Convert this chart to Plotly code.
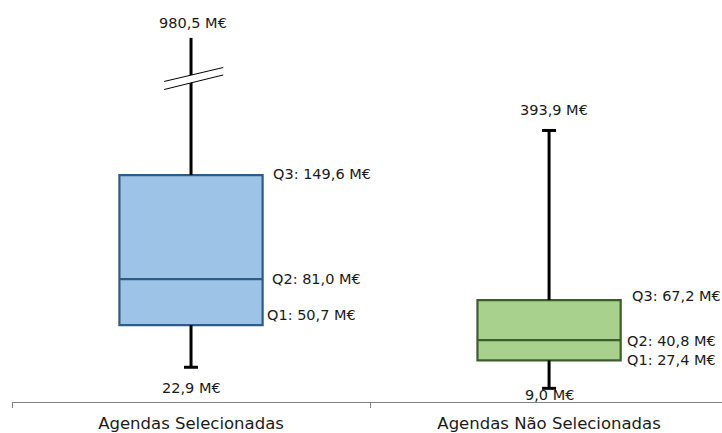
import plotly.graph_objects as go

# ---- data ----
categories = ["Agendas Selecionadas", "Agendas Não Selecionadas"]
q1_values = [50.7, 27.4]
median_values = [81.0, 40.8]
q3_values = [149.6, 67.2]
min_values = [22.9, 9.0]
max_values = [980.5, 393.9]          # true maxima (shown in the labels)
max_drawn = [240.0, 179.0]           # where the truncated upper whiskers end on the scale
has_top_cap = [False, True]
broken_axis = [True, False]

# ---- style ----
fills = ["#9DC3E6", "#A9D18E"]
edges = ["#2E5C8A", "#3B5E2B"]
font_family = "DejaVu Sans"
text_color = "#1a1a1a"
box_width = 0.4


def fmt(v):
    return f"{v:.1f}".replace(".", ",") + " M€"


fig = go.Figure()

for i, cat in enumerate(categories):
    fig.add_trace(go.Box(
        x=[cat], q1=[q1_values[i]], median=[median_values[i]], q3=[q3_values[i]],
        lowerfence=[q1_values[i]], upperfence=[q3_values[i]],
        width=box_width, whiskerwidth=0, boxpoints=False,
        fillcolor=fills[i], line=dict(color=edges[i], width=2.2),
        hoverinfo="skip", showlegend=False,
    ))

# whiskers
for i, cat in enumerate(categories):
    fig.add_trace(go.Scatter(
        x=[cat, cat, None, cat, cat],
        y=[q1_values[i], min_values[i], None, q3_values[i], max_drawn[i]],
        mode="lines", line=dict(color="black", width=3),
        hoverinfo="skip", showlegend=False,
    ))
    cap_y = [min_values[i]] + ([max_drawn[i]] if has_top_cap[i] else [])
    fig.add_trace(go.Scatter(
        x=[cat] * len(cap_y), y=cap_y, mode="markers",
        marker=dict(symbol="line-ew", size=10, line=dict(color="black", width=3)),
        hoverinfo="skip", showlegend=False,
    ))

# axis break marks on truncated whiskers
for i, brk in enumerate(broken_axis):
    if not brk:
        continue
    x0, x1 = i - 0.075, i + 0.09
    ya0, ya1 = 211.3, 220.5    # upper line
    yb0, yb1 = 206.0, 215.6    # lower line
    fig.add_shape(type="path", xref="x", yref="y",
                  path=f"M {x0},{ya0} L {x1},{ya1} L {x1},{yb1} L {x0},{yb0} Z",
                  fillcolor="white", line=dict(width=0))
    fig.add_shape(type="line", xref="x", yref="y", x0=x0, y0=ya0, x1=x1, y1=ya1,
                  line=dict(color="black", width=1))
    fig.add_shape(type="line", xref="x", yref="y", x0=x0, y0=yb0, x1=x1, y1=yb1,
                  line=dict(color="black", width=1))

# labels
lab_font = dict(family=font_family, size=14.5, color=text_color)
for i, cat in enumerate(categories):
    # maximum
    fig.add_annotation(x=i, y=max_drawn[i], text=fmt(max_values[i]), showarrow=False,
                       xanchor="center", yanchor="middle",
                       xshift=[2, 5][i], yshift=[15, 20][i], font=lab_font)
    # minimum
    fig.add_annotation(x=i, y=min_values[i], text=fmt(min_values[i]), showarrow=False,
                       xanchor="center", yanchor="middle",
                       xshift=[0, 0][i], yshift=[-21, -7][i], font=lab_font)
    # quartiles
    right = i + box_width / 2
    for name, val, xs, ys in [
        ("Q3", q3_values[i], [8, 9][i], [1, 4.5][i]),
        ("Q2", median_values[i], [7, 4][i], [0, -1][i]),
        ("Q1", q1_values[i], [2, 4][i], [10, 0][i]),
    ]:
        fig.add_annotation(x=right, y=val, text=f"{name}: {fmt(val)}", showarrow=False,
                           xanchor="left", yanchor="middle", xshift=xs, yshift=ys,
                           font=lab_font)

fig.update_layout(
    width=722, height=433,
    margin=dict(l=12, r=0, t=0, b=31),
    paper_bgcolor="white", plot_bgcolor="white",
    showlegend=False,
    xaxis=dict(type="category", range=[-0.5, 1.483], showline=True, linecolor="#808080",
               linewidth=1, ticks="outside", tickson="boundaries", ticklen=5,
               tickcolor="#808080", showgrid=False, zeroline=False,
               ticklabelstandoff=6,
               tickfont=dict(family=font_family, size=16.5, color=text_color)),
    yaxis=dict(range=[0, 265], visible=False, showgrid=False, zeroline=False),
)

fig.write_html("out.html", config={"displayModeBar": False},
               post_script="document.body.style.margin='0';")
